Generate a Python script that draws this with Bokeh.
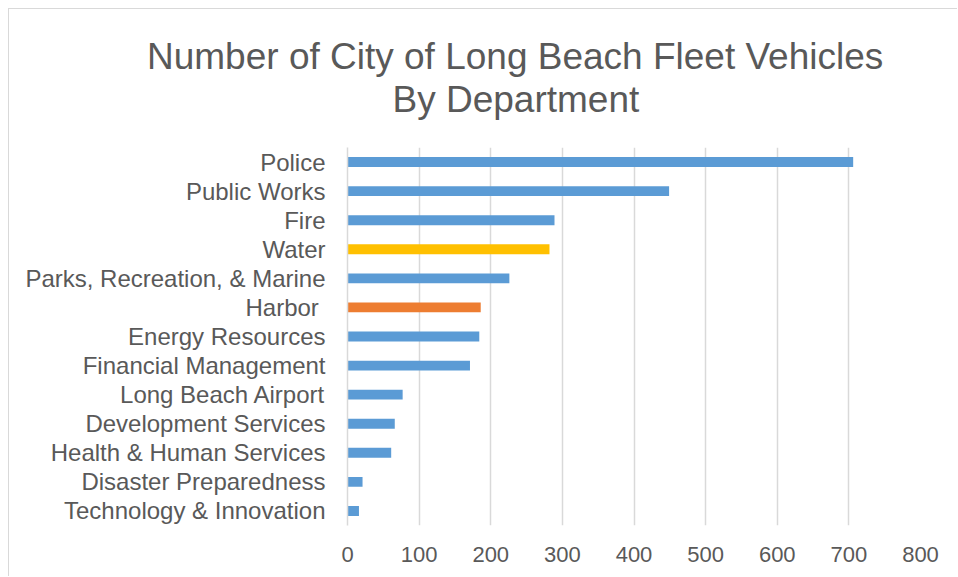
from bokeh.plotting import figure
from bokeh.models import Range1d, FactorRange, FixedTicker, Title, ColumnDataSource
from bokeh.embed import file_html
from bokeh.resources import INLINE

departments = [
    "Police", "Public Works", "Fire", "Water", "Parks, Recreation, & Marine",
    "Harbor ", "Energy Resources", "Financial Management", "Long Beach Airport",
    "Development Services", "Health & Human Services", "Disaster Preparedness",
    "Technology & Innovation",
]
vehicles = [706, 449, 289, 282, 226, 186, 184, 171, 77, 66, 61, 21, 16]
bar_colors = [
    "#5B9BD5", "#5B9BD5", "#5B9BD5", "#FFC000", "#5B9BD5", "#ED7D31", "#5B9BD5",
    "#5B9BD5", "#5B9BD5", "#5B9BD5", "#5B9BD5", "#5B9BD5", "#5B9BD5",
]
x_ticks = [0, 100, 200, 300, 400, 500, 600, 700, 800]
title_line1 = "Number of City of Long Beach Fleet Vehicles"
title_line2 = "By Department"

FONT = "Liberation Sans"
TXT = "#595959"
GRID = "#d9d9d9"

source = ColumnDataSource(dict(dept=departments, n=vehicles, color=bar_colors))

p = figure(
    width=949, height=568,
    x_range=Range1d(0, 800),
    y_range=FactorRange(factors=list(reversed(departments))),
    output_backend="svg", toolbar_location=None,
    title_location=None,
    min_border_left=338, min_border_right=38, min_border_top=138, min_border_bottom=52,
    outline_line_color=None,
    background_fill_color="white", border_fill_color="white",
    styles={"margin-left": "8px", "margin-top": "8px",
            "border-top": "1px solid #d9d9d9", "border-left": "1px solid #d9d9d9"},
)

p.hbar(y="dept", left=0, right="n", height=0.34, color="color", line_color=None, source=source)

# spacer panel between the frame and the second title line
spacer = Title(text=" ", align="left", text_font_size="23px", text_font=FONT,
               text_color="white", standoff=0)
p.add_layout(spacer, "above")
t2 = Title(text=title_line2, align="left", offset=45, text_font_size="37px",
           text_font=FONT, text_font_style="normal", text_color=TXT, standoff=0)
p.add_layout(t2, "above")
t1 = Title(text=title_line1, align="left", offset=-200.5, text_font_size="37px",
           text_font=FONT, text_font_style="normal", text_color=TXT, standoff=0)
p.add_layout(t1, "above")

p.xaxis.ticker = FixedTicker(ticks=x_ticks)
p.xaxis.axis_line_color = None
p.xaxis.major_tick_line_color = None
p.xaxis.minor_tick_line_color = None
p.xaxis.major_tick_out = 0
p.xaxis.major_tick_in = 0
p.xaxis.major_label_standoff = 21
p.xaxis.major_label_text_font = FONT
p.xaxis.major_label_text_font_size = "22px"
p.xaxis.major_label_text_color = TXT

p.yaxis.axis_line_color = GRID
p.yaxis.axis_line_width = 1.5
p.yaxis.major_tick_line_color = None
p.yaxis.major_tick_out = 0
p.yaxis.major_tick_in = 0
p.yaxis.major_label_standoff = 22
p.yaxis.major_label_text_font = FONT
p.yaxis.major_label_text_font_size = "24px"
p.yaxis.major_label_text_color = TXT

p.xgrid.ticker = FixedTicker(ticks=x_ticks)
p.xgrid.grid_line_color = GRID
p.xgrid.grid_line_width = 1.5
p.ygrid.grid_line_color = None

open("out.html", "w").write(file_html(p, INLINE))
